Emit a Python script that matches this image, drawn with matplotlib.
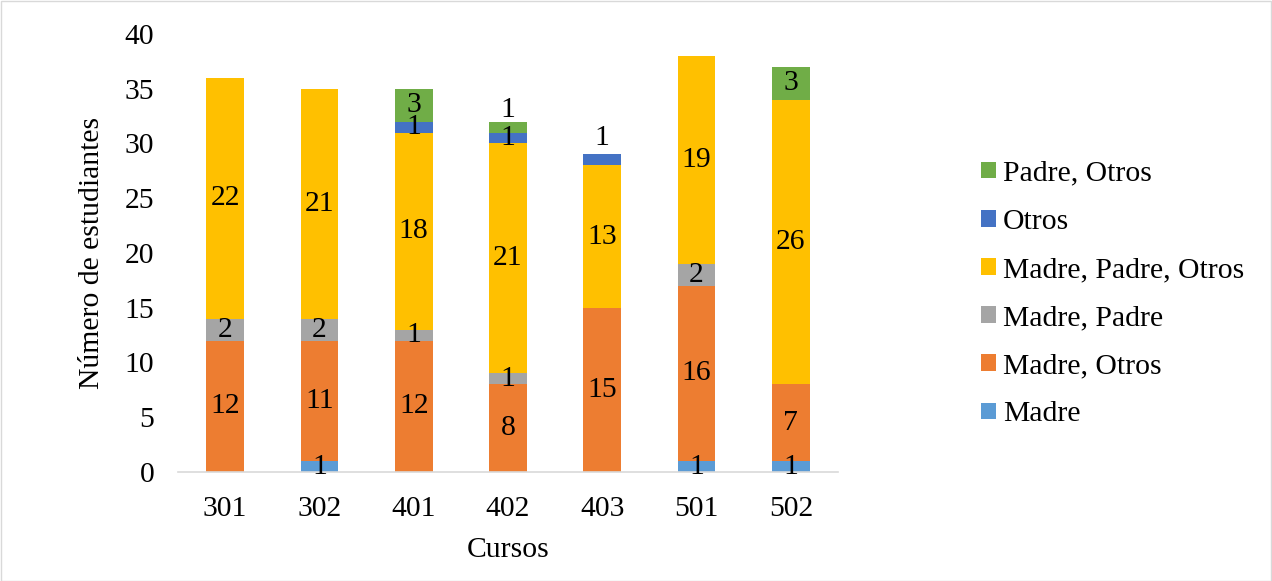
import matplotlib
matplotlib.use("Agg")
import matplotlib.pyplot as plt
from matplotlib.patches import Rectangle

plt.rcParams['font.family'] = ['Liberation Serif', 'DejaVu Serif']

cursos = ["301", "302", "401", "402", "403", "501", "502"]
series_names = ["Madre", "Madre, Otros", "Madre, Padre", "Madre, Padre, Otros", "Otros", "Padre, Otros"]
madre = [0, 1, 0, 0, 0, 1, 1]
madre_otros = [12, 11, 12, 8, 15, 16, 7]
madre_padre = [2, 2, 1, 1, 0, 2, 0]
madre_padre_otros = [22, 21, 18, 21, 13, 19, 26]
otros = [0, 0, 1, 1, 1, 0, 0]
padre_otros = [0, 0, 3, 1, 0, 0, 3]
colors = ["#5B9BD5", "#ED7D31", "#A5A5A5", "#FFC000", "#4472C4", "#70AD47"]
# label nudges (data units) where the original moved labels to avoid overlap
label_shift = {(3, 5): 1.6, (4, 4): 2.0}

series = [madre, madre_otros, madre_padre, madre_padre_otros, otros, padre_otros]
FS = 21.3

fig = plt.figure(figsize=(12.72, 5.81), dpi=100)
ax = fig.add_axes([178/1272, 1-472/581, (838-178)/1272, (472-34)/581])

x = list(range(len(cursos)))
bottom = [0]*len(cursos)
handles = []
for si, (vals, name, c) in enumerate(zip(series, series_names, colors)):
    bars = ax.bar(x, vals, width=0.4, bottom=bottom, color=c, label=name, zorder=2)
    handles.append(bars)
    for i, v in enumerate(vals):
        if v > 0:
            yc = bottom[i] + v/2 + label_shift.get((i, si), 0)
            ax.text(x[i], yc, str(v), ha='center', va='center', fontsize=FS, color='black', zorder=3)
    bottom = [b + v for b, v in zip(bottom, vals)]

ax.set_xlim(-0.5, len(cursos)-0.5)
ax.set_ylim(0, 40)
ax.set_yticks(range(0, 41, 5))
ax.set_xticks(x)
ax.set_xticklabels(cursos)
ax.tick_params(axis='both', length=0, labelsize=FS)
ax.tick_params(axis='x', pad=17)
ax.tick_params(axis='y', pad=17)
for s in ['left', 'right', 'top']:
    ax.spines[s].set_visible(False)
ax.spines['bottom'].set_color('#D9D9D9')
ax.spines['bottom'].set_linewidth(1.2)

ax.set_ylabel("Número de estudiantes", fontsize=FS, labelpad=14)
ax.set_xlabel("Cursos", fontsize=FS, labelpad=11)

leg = fig.legend(handles[::-1], series_names[::-1], loc='center left',
                 bbox_to_anchor=(981/1272, 1-294/581), frameon=False, fontsize=FS,
                 handlelength=0.5, handleheight=0.5, handletextpad=0.25, labelspacing=0.75,
                 borderpad=0, borderaxespad=0)

fig.patches.append(Rectangle((0.5/1272, 0.5/581), 1-1.5/1272, 1-1.5/581, transform=fig.transFigure,
                             fill=False, edgecolor='#D9D9D9', linewidth=1))

fig.savefig("out.png", dpi=100)
